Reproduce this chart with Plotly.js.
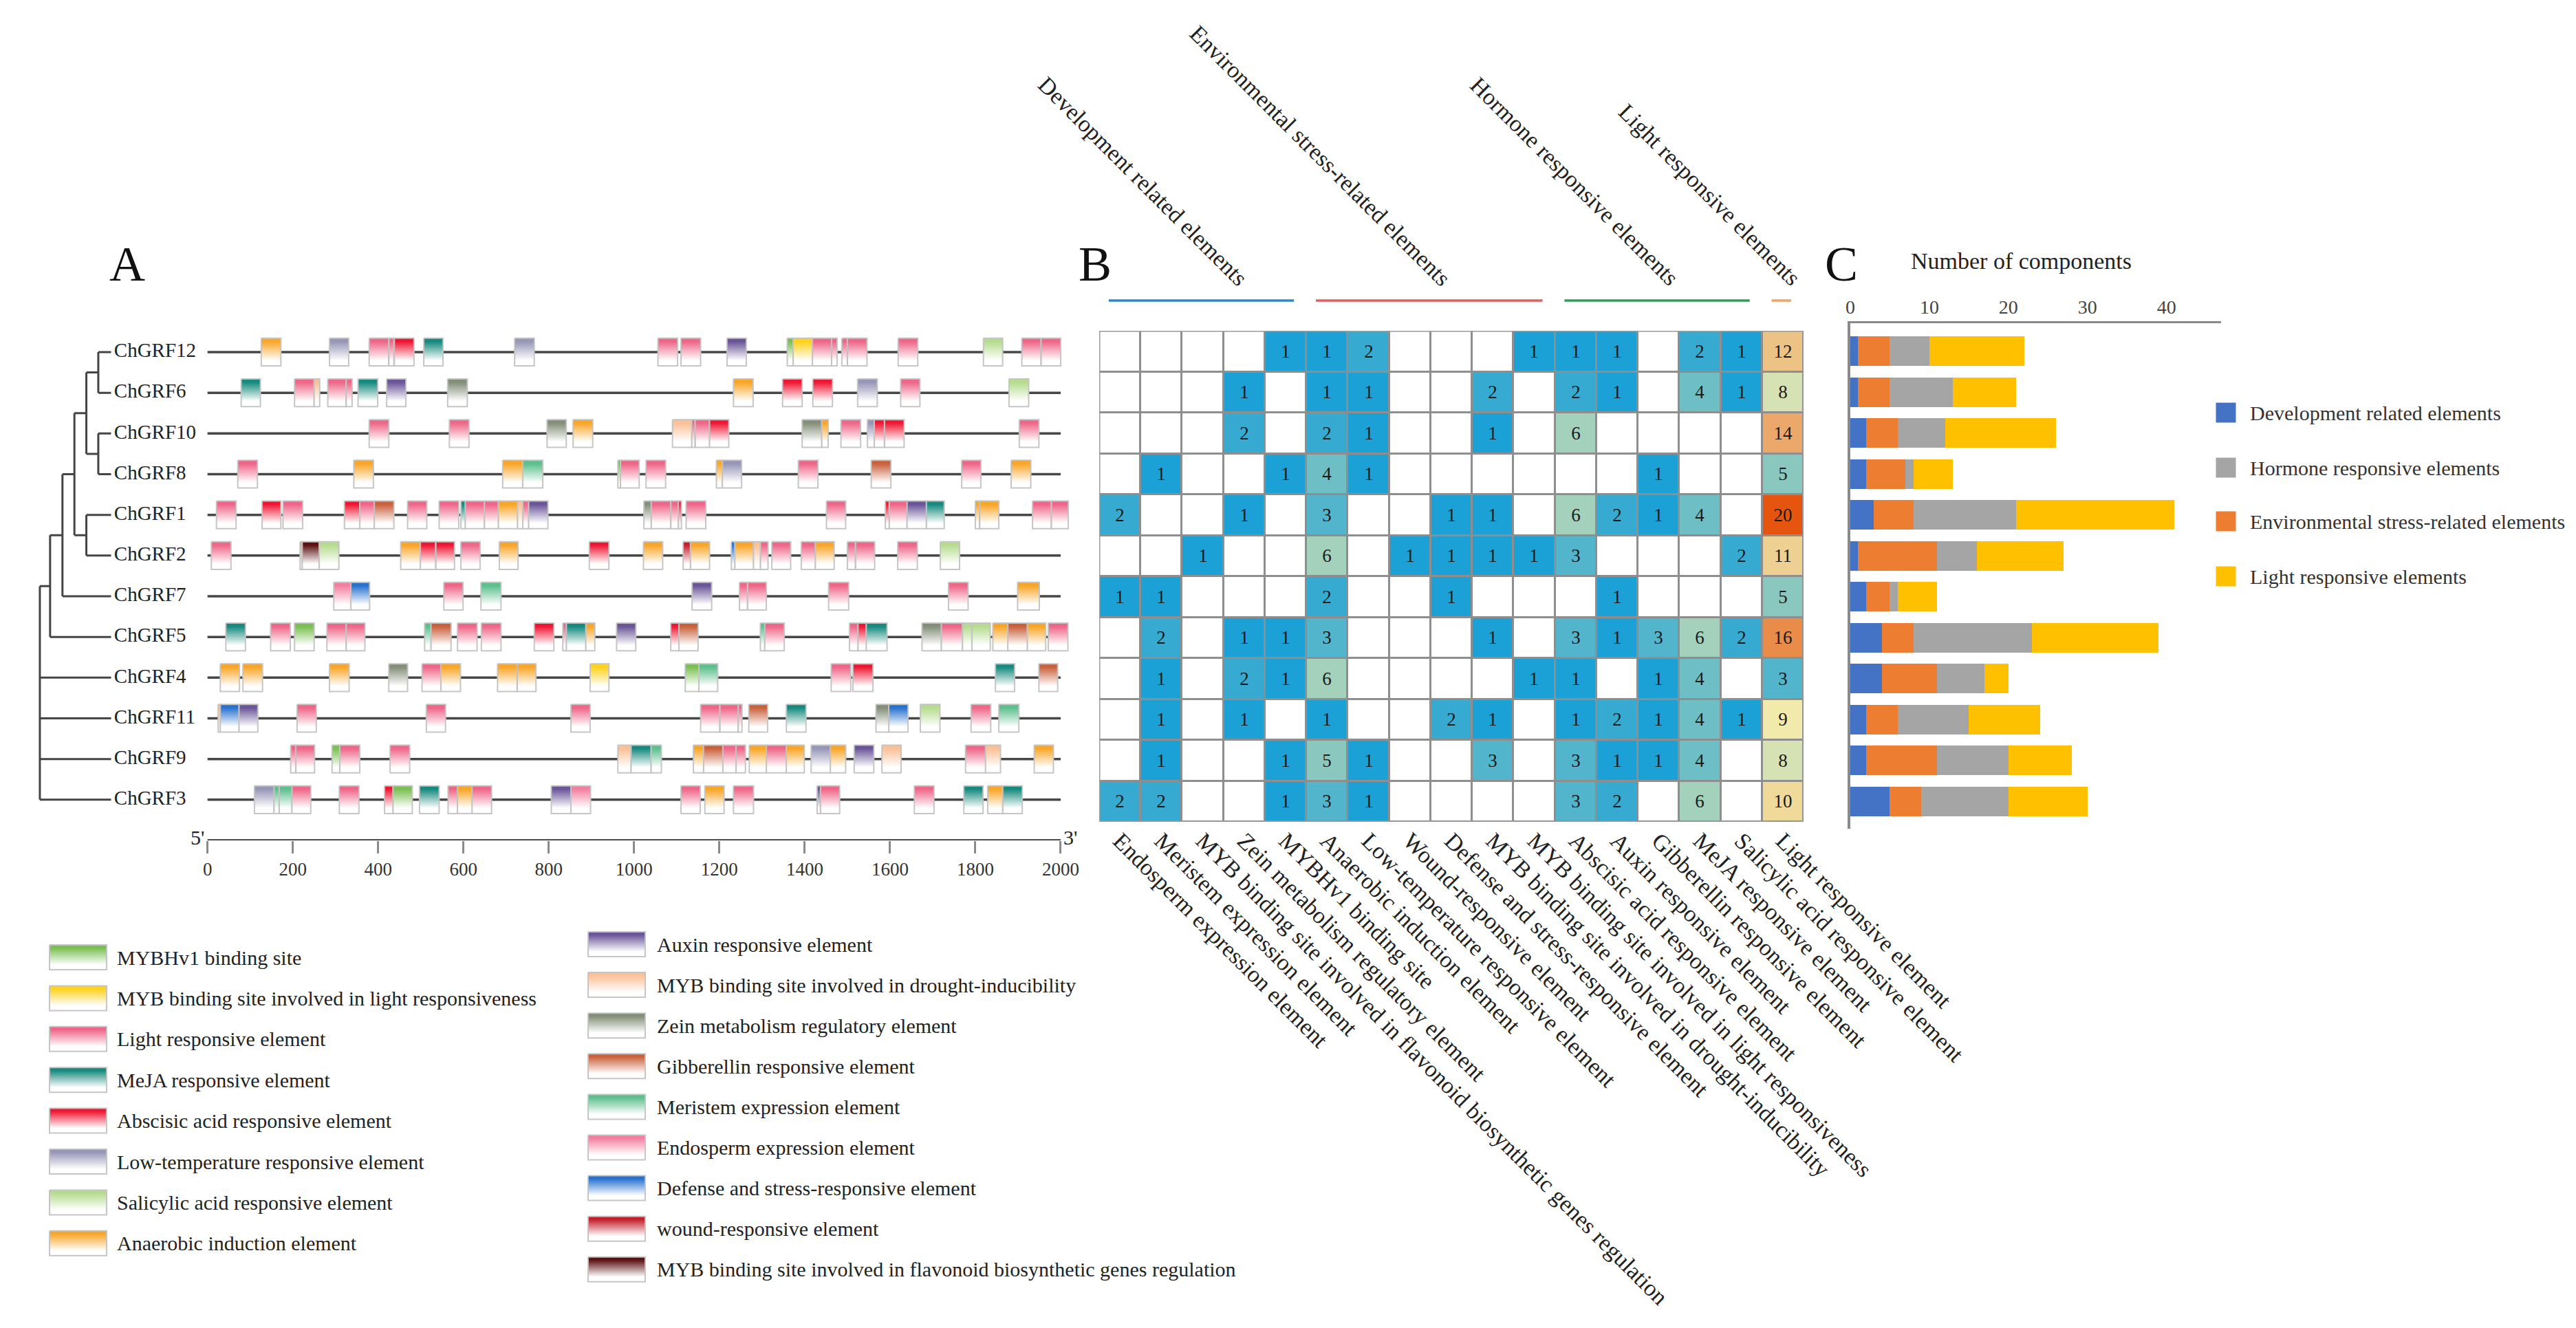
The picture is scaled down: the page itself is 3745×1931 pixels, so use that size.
<!DOCTYPE html>
<html><head><meta charset="utf-8">
<script src="https://cdn.plot.ly/plotly-3.0.1.min.js"></script>
<style>html,body{margin:0;padding:0;background:#fff}#chart{width:3745px;height:1931px}</style>
</head><body><div id="chart"></div>
<script>
const W = 3745, H = 1931;
const SERIF = '"Liberation Serif", "Times New Roman", serif';

// ---------- data ----------
const genes = ['ChGRF12','ChGRF6','ChGRF10','ChGRF8','ChGRF1','ChGRF2','ChGRF7','ChGRF5','ChGRF4','ChGRF11','ChGRF9','ChGRF3'];

const elements = [
  'Endosperm expression element',
  'Meristem expression element',
  'MYB binding site involved in flavonoid biosynthetic genes regulation',
  'Zein metabolism regulatory element',
  'MYBHv1 binding site',
  'Anaerobic induction element',
  'Low-temperature responsive element',
  'Wound-responsive element',
  'Defense and stress-responsive element',
  'MYB binding site involved in drought-inducibility',
  'MYB binding site involved in light responsiveness',
  'Abscisic acid responsive element',
  'Auxin responsive element',
  'Gibberellin responsive element',
  'MeJA responsive element',
  'Salicylic acid responsive element',
  'Light responsive element'
];

const counts = [
  [0,0,0,0,1,1,2,0,0,0,1,1,1,0,2,1,12],
  [0,0,0,1,0,1,1,0,0,2,0,2,1,0,4,1,8],
  [0,0,0,2,0,2,1,0,0,1,0,6,0,0,0,0,14],
  [0,1,0,0,1,4,1,0,0,0,0,0,0,1,0,0,5],
  [2,0,0,1,0,3,0,0,1,1,0,6,2,1,4,0,20],
  [0,0,1,0,0,6,0,1,1,1,1,3,0,0,0,2,11],
  [1,1,0,0,0,2,0,0,1,0,0,0,1,0,0,0,5],
  [0,2,0,1,1,3,0,0,0,1,0,3,1,3,6,2,16],
  [0,1,0,2,1,6,0,0,0,0,1,1,0,1,4,0,3],
  [0,1,0,1,0,1,0,0,2,1,0,1,2,1,4,1,9],
  [0,1,0,0,1,5,1,0,0,3,0,3,1,1,4,0,8],
  [2,2,0,0,1,3,1,0,0,0,0,3,2,0,6,0,10]
];

const groupNames  = ['Development related elements','Environmental stress-related elements','Hormone responsive elements','Light responsive elements'];
const groupCols   = [[0,4],[5,10],[11,15],[16,16]];
const groupColors = ['#2f89c7','#e0605e','#2e9d57','#f0a366'];

// Panel C
const devCounts   = [1,1,2,2,3,1,2,4,4,2,2,5];
const envCounts   = [4,4,4,5,5,10,3,4,7,4,9,4];
const hormCounts  = [5,8,6,1,13,5,1,15,6,9,9,11];
const lightCounts = [12,8,14,5,20,11,5,16,3,9,8,10];
const cTicks = [0,10,20,30,40];
const cLegendNames  = ['Development related elements','Hormone responsive elements','Environmental stress-related elements','Light responsive elements'];
const cLegendColors = ['#4472c4','#a5a5a5','#ed7d31','#ffc000'];

// Panel A motif types
const motifCodes = ['HV','ML','LR','MJ','AB','LT','SA','AN','AU','MD','ZE','GA','ME','EN','DS','WR','FL'];
const motifNames = [
  'MYBHv1 binding site',
  'MYB binding site involved in light responsiveness',
  'Light responsive element',
  'MeJA responsive element',
  'Abscisic acid responsive element',
  'Low-temperature responsive element',
  'Salicylic acid responsive element',
  'Anaerobic induction element',
  'Auxin responsive element',
  'MYB binding site involved in drought-inducibility',
  'Zein metabolism regulatory element',
  'Gibberellin responsive element',
  'Meristem expression element',
  'Endosperm expression element',
  'Defense and stress-responsive element',
  'wound-responsive element',
  'MYB binding site involved in flavonoid biosynthetic genes regulation'
];
const motifColors = ['#79c050','#ffd21a','#ee6688','#168a7e','#ee1733','#9896b8','#b5dc8e','#f9a527','#6a5598','#fac096','#848e78','#c9613c','#5cbf8c','#f27fa0','#2872cf','#c31f2b','#5c1212'];

// motif boxes: [start bp, end bp, type]
const m12 = [[126,172,'AN'],[286,331,'LT'],[379,425,'LR'],[425,437,'LR'],[438,484,'AB'],[507,552,'MJ'],[720,766,'LT'],[1056,1102,'LR'],[1110,1156,'LR'],[1218,1263,'AU'],[1359,1373,'HV'],[1373,1418,'ML'],[1418,1463,'LR'],[1463,1476,'LR'],[1487,1500,'LR'],[1500,1546,'LR'],[1619,1665,'LR'],[1819,1864,'SA'],[1909,1954,'LR'],[1954,2000,'LR']];
const m6  = [[79,124,'MJ'],[204,250,'LR'],[250,263,'MD'],[282,325,'LR'],[325,339,'LR'],[353,399,'MJ'],[420,465,'AU'],[563,609,'ZE'],[1233,1279,'AN'],[1348,1394,'AB'],[1419,1465,'AB'],[1524,1570,'LT'],[1625,1670,'LR'],[1879,1925,'SA']];
const m10 = [[379,425,'LR'],[567,613,'LR'],[796,841,'ZE'],[857,903,'AN'],[1090,1135,'MD'],[1135,1143,'LR'],[1143,1177,'LR'],[1177,1222,'AB'],[1394,1440,'ZE'],[1440,1455,'AN'],[1485,1531,'LR'],[1547,1563,'LT'],[1563,1587,'AB'],[1587,1633,'AB'],[1903,1949,'LR']];
const m8  = [[71,117,'LR'],[343,389,'AN'],[692,739,'AN'],[739,786,'ME'],[962,968,'HV'],[968,1012,'LR'],[1028,1074,'LR'],[1193,1207,'AN'],[1207,1252,'LT'],[1385,1431,'LR'],[1556,1602,'GA'],[1768,1813,'LR'],[1884,1930,'AN']];
const m1  = [[21,67,'LR'],[128,172,'AB'],[177,223,'LR'],[321,357,'AB'],[357,391,'LR'],[391,437,'GA'],[469,514,'LR'],[543,589,'LR'],[594,604,'MJ'],[604,649,'LR'],[649,682,'LR'],[682,727,'AN'],[727,739,'MD'],[739,753,'LR'],[753,798,'AU'],[1023,1040,'ZE'],[1040,1086,'LR'],[1086,1104,'LR'],[1104,1111,'AB'],[1122,1168,'LR'],[1451,1496,'LR'],[1589,1598,'AB'],[1598,1640,'LR'],[1640,1685,'AU'],[1685,1727,'MJ'],[1800,1810,'AN'],[1810,1855,'AN'],[1934,1978,'LR'],[1978,2018,'LR']];
const m2  = [[9,55,'LR'],[217,222,'AN'],[222,262,'FL'],[262,308,'SA'],[453,499,'AN'],[499,535,'AB'],[535,579,'AB'],[594,639,'LR'],[684,728,'AN'],[895,941,'AB'],[1022,1067,'AN'],[1115,1132,'WR'],[1132,1177,'AN'],[1228,1236,'DS'],[1236,1280,'AN'],[1280,1296,'MD'],[1296,1314,'LR'],[1323,1367,'LR'],[1392,1425,'LR'],[1425,1469,'AN'],[1500,1519,'LR'],[1519,1564,'LR'],[1618,1664,'LR'],[1718,1763,'SA']];
const m7  = [[296,336,'EN'],[336,380,'DS'],[554,599,'LR'],[641,688,'ME'],[1136,1182,'AU'],[1247,1266,'LR'],[1266,1310,'LR'],[1456,1503,'LR'],[1737,1783,'LR'],[1899,1950,'AN']];
const m5  = [[43,89,'MJ'],[148,194,'LR'],[204,250,'HV'],[280,325,'LR'],[325,369,'LR'],[509,524,'ME'],[524,571,'GA'],[586,632,'LR'],[642,688,'LR'],[766,812,'AB'],[833,841,'LR'],[841,887,'MJ'],[887,908,'AN'],[959,1004,'AU'],[1086,1105,'AB'],[1105,1150,'GA'],[1296,1306,'ME'],[1306,1352,'LR'],[1505,1525,'LR'],[1525,1544,'AB'],[1544,1593,'MJ'],[1675,1720,'ZE'],[1720,1770,'LR'],[1770,1792,'SA'],[1792,1835,'SA'],[1841,1876,'AN'],[1876,1922,'GA'],[1922,1965,'AN'],[1971,2017,'LR']];
const m4  = [[30,75,'AN'],[83,129,'AN'],[286,332,'AN'],[425,469,'ZE'],[503,547,'LR'],[547,593,'AN'],[680,726,'AN'],[726,770,'AN'],[897,941,'ML'],[1120,1152,'HV'],[1152,1196,'ME'],[1462,1508,'LR'],[1513,1560,'AB'],[1847,1892,'MJ'],[1949,1993,'GA']];
const m11 = [[25,30,'MD'],[30,74,'DS'],[74,118,'AU'],[210,255,'LR'],[513,558,'LR'],[852,897,'LR'],[1156,1201,'LR'],[1201,1244,'LR'],[1244,1253,'LR'],[1269,1313,'GA'],[1357,1403,'MJ'],[1567,1597,'ZE'],[1597,1642,'DS'],[1671,1717,'SA'],[1790,1836,'LR'],[1855,1902,'ME']];
const m9  = [[195,207,'LR'],[207,251,'LR'],[292,310,'HV'],[310,357,'LR'],[428,474,'LR'],[962,993,'MD'],[993,1040,'MJ'],[1040,1064,'ME'],[1139,1163,'AN'],[1163,1208,'GA'],[1208,1239,'LR'],[1239,1261,'LR'],[1270,1310,'AN'],[1310,1357,'LR'],[1357,1399,'AN'],[1415,1460,'LT'],[1460,1496,'AN'],[1516,1562,'AU'],[1581,1626,'MD'],[1777,1824,'LR'],[1824,1859,'MD'],[1938,1983,'AN']];
const m3  = [[110,156,'LT'],[156,168,'ME'],[168,198,'ME'],[198,242,'LR'],[309,355,'LR'],[415,435,'AB'],[435,480,'HV'],[497,543,'MJ'],[564,586,'LR'],[586,620,'AN'],[620,666,'LR'],[806,852,'AU'],[852,898,'EN'],[1110,1155,'LR'],[1166,1211,'AN'],[1233,1280,'LR'],[1429,1437,'AU'],[1437,1482,'LR'],[1657,1703,'LR'],[1773,1818,'MJ'],[1829,1864,'AN'],[1864,1910,'MJ']];
const motifsByGene = [m12,m6,m10,m8,m1,m2,m7,m5,m4,m11,m9,m3];
const geneLength = 2000;
const bpTicks = [0,200,400,600,800,1000,1200,1400,1600,1800,2000];

// phylogenetic tree: [node id, children, x position (bp units, left of sequences)]
const leafX = -226;
const treeNodes = [
  ['n1',['ChGRF12','ChGRF6'],-256],
  ['n2',['ChGRF10','ChGRF8'],-256],
  ['n3',['n1','n2'],-284],
  ['n4',['ChGRF1','ChGRF2'],-284],
  ['n5',['n3','n4'],-312],
  ['n6',['n5','ChGRF7'],-340],
  ['n7',['n6','ChGRF5'],-369],
  ['root',['n7','ChGRF4','ChGRF11','ChGRF9','ChGRF3'],-393]
];

// ---------- traces ----------
const traces = [];
const colorOf = c => motifColors[motifCodes.indexOf(c)];
const grad = c => [[0,c],[0.12,c],[0.8,'#ffffff'],[1,'#ffffff']];

// tree
(function(){
  const nx = {}, ny = {};
  genes.forEach((g,i)=>{ nx[g]=leafX; ny[g]=i; });
  const xs=[], ys=[];
  treeNodes.forEach(([id,kids,x])=>{
    const kys = kids.map(k=>ny[k]);
    const lo = Math.min(...kys), hi = Math.max(...kys);
    nx[id]=x; ny[id]=(lo+hi)/2;
    xs.push(x,x,null); ys.push(lo,hi,null);
    kids.forEach(k=>{ xs.push(x,nx[k],null); ys.push(ny[k],ny[k],null); });
  });
  traces.push({type:'scatter',mode:'lines',x:xs,y:ys,xaxis:'x',yaxis:'y',line:{color:'#454545',width:3},hoverinfo:'skip',cliponaxis:false});
})();

// gene lines
(function(){
  const xs=[], ys=[];
  genes.forEach((g,i)=>{ xs.push(0,geneLength,null); ys.push(i,i,null); });
  traces.push({type:'scatter',mode:'lines',x:xs,y:ys,xaxis:'x',yaxis:'y',line:{color:'#474747',width:3.5},hoverinfo:'skip'});
})();

// motif boxes
const BH = 0.34;
motifsByGene.forEach((list,gi)=>{
  const byType = {};
  list.forEach(([s,e,t])=>{ (byType[t]=byType[t]||[]).push([s,e]); });
  Object.keys(byType).forEach(t=>{
    const xs=[], ys=[];
    byType[t].forEach(([s,e])=>{ xs.push(s,e,e,s,s,null); ys.push(gi-BH,gi-BH,gi+BH,gi+BH,gi-BH,null); });
    traces.push({type:'scatter',mode:'lines',x:xs,y:ys,xaxis:'x',yaxis:'y',fill:'toself',
      fillgradient:{type:'vertical',start:gi-BH,stop:gi+BH,colorscale:grad(colorOf(t))},
      line:{color:'rgba(195,195,195,0.95)',width:2},hoverinfo:'skip',cliponaxis:false});
  });
});

// gene names
traces.push({type:'scatter',mode:'text',x:genes.map(()=>-219),y:genes.map((g,i)=>i),text:genes,textposition:'middle right',
  textfont:{family:SERIF,size:29,color:'#222'},xaxis:'x',yaxis:'y',hoverinfo:'skip',cliponaxis:false});

// sequence axis line
traces.push({type:'scatter',mode:'lines',x:[0,geneLength],y:[12,12],xaxis:'x',yaxis:'y',line:{color:'#333',width:3.5},hoverinfo:'skip',cliponaxis:false});

// heatmap
const heatScale = [[0,'#ffffff'],[0.04,'#ffffff'],[0.05,'#1ca1d6'],[0.10,'#36aad0'],[0.15,'#53b5cb'],[0.20,'#6ebfc5'],[0.25,'#8ac8bf'],[0.30,'#a4d1bb'],[0.40,'#d6e2b4'],[0.45,'#f1eaab'],[0.50,'#efda9a'],[0.55,'#eed093'],[0.60,'#edc285'],[0.70,'#eba86a'],[0.80,'#e98b49'],[1,'#e6550f']];
traces.push({type:'heatmap',z:counts,x:elements.map((_,i)=>i),y:genes.map((_,i)=>i),xaxis:'x2',yaxis:'y2',
  zmin:0,zmax:20,colorscale:heatScale,showscale:false,xgap:3,ygap:3,
  text:counts.map(r=>r.map(v=>v?String(v):'')),texttemplate:'%{text}',
  textfont:{family:SERIF,size:27,color:'#1a1a1a'},hoverinfo:'skip'});

// stacked bars
[[devCounts,'#4472c4'],[envCounts,'#ed7d31'],[hormCounts,'#a5a5a5'],[lightCounts,'#ffc000']].forEach(([vals,col])=>{
  traces.push({type:'bar',orientation:'h',x:vals,y:genes.map((_,i)=>i),xaxis:'x3',yaxis:'y3',width:0.72,
    marker:{color:col,line:{width:0}},hoverinfo:'skip'});
});

// legend of panel C (markers on pixel overlay)
const cLegY = [600,680,758,838];
traces.push({type:'scatter',mode:'markers',x:cLegY.map(()=>3236),y:cLegY,xaxis:'x4',yaxis:'y4',
  marker:{symbol:'square',size:29,color:cLegendColors},hoverinfo:'skip'});

// legend of panel A (gradient swatches on pixel overlay)
const annotations = [];
motifCodes.forEach((c,i)=>{
  const left = i < 8;
  const k = left ? i : i-8;
  const cy = left ? 1392 + 59.4*k : 1373 + 59.1*k;
  const x0 = left ? 72 : 855, x1 = x0 + 83;
  const y0 = cy-18, y1 = cy+18;
  traces.push({type:'scatter',mode:'lines',x:[x0,x1,x1,x0,x0],y:[y0,y0,y1,y1,y0],xaxis:'x4',yaxis:'y4',fill:'toself',
    fillgradient:{type:'vertical',start:y0,stop:y1,colorscale:grad(motifColors[i])},
    line:{color:'rgba(195,195,195,0.95)',width:2},hoverinfo:'skip'});
  annotations.push({xref:'x4',yref:'y4',x:left?168:953,y:cy,text:motifNames[i],showarrow:false,xanchor:'left',yanchor:'middle',
    font:{family:SERIF,size:30,color:'#222'}});
});

cLegendNames.forEach((n,i)=>{
  annotations.push({xref:'x4',yref:'y4',x:3269,y:cLegY[i],text:n,showarrow:false,xanchor:'left',yanchor:'middle',font:{family:SERIF,size:30,color:'#333'}});
});

// panel letters and titles
[['A',185],['B',1592],['C',2677]].forEach(([t,x])=>{
  annotations.push({xref:'x4',yref:'y4',x:x,y:384,text:t,showarrow:false,xanchor:'center',yanchor:'middle',font:{family:SERIF,size:72,color:'#111'}});
});
annotations.push({xref:'x4',yref:'y4',x:2938,y:379,text:'Number of components',showarrow:false,xanchor:'center',yanchor:'middle',font:{family:SERIF,size:34,color:'#222'}});
annotations.push({xref:'x',yref:'y',x:-4,y:11.93,text:"5'",showarrow:false,xanchor:'right',yanchor:'middle',font:{family:SERIF,size:30,color:'#222'}});
annotations.push({xref:'x',yref:'y',x:2004,y:11.93,text:"3'",showarrow:false,xanchor:'left',yanchor:'middle',font:{family:SERIF,size:30,color:'#222'}});

// group labels + lines
const shapes = [];
const lineY = 1 - 437/H;
const hmDomain = [0.4267,0.70013];
const colToPaper = c => hmDomain[0] + (c+0.5)/17*(hmDomain[1]-hmDomain[0]);
const labelShift = [1.25,0.65,0.65,0.6];
groupNames.forEach((n,g)=>{
  const [c0,c1] = groupCols[g];
  shapes.push({type:'line',xref:'x2',yref:'paper',x0:c0-0.27,x1:c1+0.2,y0:lineY,y1:lineY,line:{color:groupColors[g],width:3.5}});
  annotations.push({xref:'paper',yref:'paper',x:colToPaper((c0+c1)/2+labelShift[g]),y:lineY+0.006,text:n,showarrow:false,textangle:45,
    xanchor:'right',yanchor:'bottom',font:{family:SERIF,size:34,color:'#222'}});
});
// heatmap grid background and frame
shapes.push({type:'rect',xref:'x2',yref:'y2',x0:-0.5,x1:16.5,y0:-0.5,y1:11.5,fillcolor:'#8e8e8e',line:{width:0},layer:'below'});
shapes.push({type:'rect',xref:'x2',yref:'y2',x0:-0.5,x1:16.5,y0:-0.5,y1:11.5,line:{color:'#9a9a9a',width:3}});

const layout = {
  width:W,height:H,margin:{l:0,r:0,t:0,b:0},paper_bgcolor:'#ffffff',plot_bgcolor:'rgba(0,0,0,0)',
  showlegend:false,barmode:'stack',font:{family:SERIF,color:'#222'},
  xaxis:{domain:[0.0110,0.41506],range:[-420,2020],tickmode:'array',tickvals:bpTicks,ticktext:bpTicks.map(String),
    ticks:'outside',ticklen:18,tickwidth:3,tickcolor:'#8a8a8a',showgrid:false,zeroline:false,showline:false,
    tickfont:{family:SERIF,size:27,color:'#333'},anchor:'y'},
  yaxis:{domain:[0.36717,0.75324],range:[12,-0.6],visible:false,anchor:'x'},
  xaxis2:{domain:hmDomain,range:[-0.5,16.5],tickmode:'array',tickvals:elements.map((_,i)=>i),ticktext:elements,
    tickangle:45,ticks:'',showgrid:false,zeroline:false,showline:false,tickfont:{family:SERIF,size:34,color:'#222'},anchor:'y2'},
  yaxis2:{domain:[0.38115,0.75091],range:[11.5,-0.5],visible:false,anchor:'x2'},
  xaxis3:{domain:[0.71829,0.86222],range:[0,46.9],side:'top',tickmode:'array',tickvals:cTicks,ticks:'',showgrid:false,zeroline:false,
    showline:true,linecolor:'#8a8a8a',linewidth:3,tickfont:{family:SERIF,size:28,color:'#444'},anchor:'y3'},
  yaxis3:{domain:[0.37597,0.7566],range:[11.67,-0.685],showline:true,linecolor:'#8a8a8a',linewidth:4,showticklabels:false,
    ticks:'',showgrid:false,zeroline:false,anchor:'x3'},
  xaxis4:{domain:[0,1],range:[0,W],visible:false,anchor:'y4'},
  yaxis4:{domain:[0,1],range:[H,0],visible:false,anchor:'x4'},
  shapes:shapes,annotations:annotations
};

Plotly.newPlot('chart',traces,layout,{staticPlot:true,displayModeBar:false});
</script></body></html>
